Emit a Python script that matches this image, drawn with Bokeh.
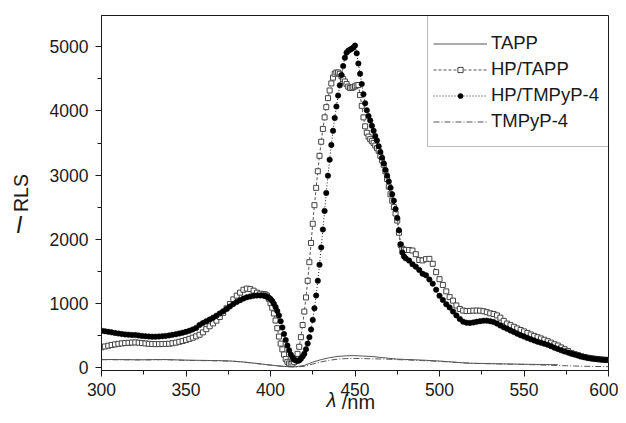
import math
from bokeh.plotting import figure
from bokeh.models import (Range1d, FixedTicker, Legend, LegendItem,
                          BoxAnnotation, LinearAxis)
from bokeh.embed import file_html
from bokeh.resources import INLINE

# ---------------- data ----------------
wl_a = list(range(300, 396, 2))
wl_b = list(range(396, 481))
wl_c = list(range(482, 601, 2))
wavelength = wl_a + wl_b + wl_c

hp_tmpyp4 = [
    # 300..394 step 2
    572, 562, 553, 545, 535, 528, 520, 513, 508, 505,
    503, 497, 490, 485, 480, 478, 478, 480, 484, 490,
    498, 506, 516, 527, 540, 553, 570, 590, 615, 660,
    690, 718, 745, 775, 806, 840, 875, 910, 950, 988,
    1020, 1048, 1072, 1092, 1106, 1116, 1120, 1122,
    # 396..480 step 1
    1118, 1112, 1100, 1085, 1066, 1035, 990, 940, 880, 810,
    720, 620, 520, 425, 340, 265, 200, 155, 122, 105,
    100, 108, 135, 170, 210, 280, 370, 470, 590, 740,
    920, 1120, 1350, 1600, 1870, 2150, 2440, 2720, 2990, 3240,
    3470, 3690, 3890, 4070, 4240, 4400, 4560, 4700, 4830, 4910,
    4940, 4955, 4970, 4990, 5020, 4900, 4740, 4580, 4420, 4260,
    4120, 4010, 3920, 3850, 3770, 3690, 3610, 3540, 3450, 3360,
    3270, 3180, 3080, 2990, 2900, 2800, 2700, 2600, 2470, 2330,
    2140, 1920, 1790, 1730, 1700,
    # 482..600 step 2
    1665, 1610, 1570, 1520, 1460, 1435, 1370, 1305, 1210, 1115,
    1050, 985, 935, 870, 810, 755, 712, 696, 692, 700,
    710, 720, 728, 728, 720, 705, 682, 652, 625, 600,
    575, 550, 525, 500, 480, 458, 438, 418, 400, 385,
    368, 350, 330, 305, 285, 265, 248, 230, 213, 198,
    183, 168, 155, 145, 137, 130, 124, 119, 115, 112,
]

hp_tapp = [
    # 300..394 step 2
    312, 325, 337, 347, 357, 366, 373, 378, 382, 386,
    388, 384, 378, 372, 366, 363, 362, 362, 363, 365,
    368, 375, 385, 398, 410, 425, 444, 462, 483, 508,
    545, 595, 640, 685, 728, 785, 850, 920, 988, 1060,
    1118, 1165, 1210, 1228, 1220, 1196, 1165, 1148,
    # 396..480 step 1
    1142, 1135, 1118, 1070, 1000, 930, 840, 730, 610, 480,
    370, 280, 200, 130, 85, 60, 50, 55, 80, 130,
    210, 320, 470, 660, 870, 1090, 1350, 1640, 1940, 2240,
    2530, 2800, 3060, 3300, 3520, 3720, 3900, 4060, 4200, 4320,
    4430, 4520, 4580, 4600, 4600, 4580, 4540, 4500, 4460, 4420,
    4380, 4360, 4360, 4370, 4385, 4400, 4405, 4250, 4080, 3900,
    3760, 3660, 3600, 3560, 3530, 3500, 3460, 3420, 3380, 3300,
    3230, 3160, 3060, 2940, 2820, 2700, 2600, 2500, 2400, 2290,
    2100, 1910, 1850, 1835, 1830,
    # 482..600 step 2
    1830, 1822, 1765, 1675, 1668, 1688, 1692, 1615, 1485, 1375,
    1285, 1185, 1095, 1040, 965, 910, 885, 878, 880, 884,
    885, 884, 875, 860, 842, 832, 810, 775, 725, 682,
    658, 632, 606, 582, 560, 536, 512, 490, 470, 450,
    430, 407, 385, 360, 340, 310, 282, 255, 225, 205,
    190, 172, 160, 148, 140, 133, 127, 122, 118, 115,
]

wl_thin = list(range(300, 601, 5))
wl_tapp = list(range(300, 571, 5))
tapp = [
    122, 122, 121, 120, 118, 118, 120, 122, 120, 116,
    112, 110, 108, 106, 104, 100, 92, 80, 66, 50,
    35, 20, 10, 8, 30, 80, 120, 150, 170, 180,
    182, 175, 168, 155, 140, 128, 122, 118, 112, 105,
    98, 88, 78, 68, 62, 60, 58, 55, 52, 50,
    48, 46, 44, 42, 40,
]
tmpyp4 = [
    118, 118, 117, 116, 115, 115, 116, 118, 116, 112,
    108, 106, 104, 102, 100, 96, 90, 78, 64, 48,
    34, 20, 10, 5, 15, 50, 85, 110, 128, 136,
    138, 136, 132, 130, 126, 120, 115, 110, 104, 98,
    92, 85, 76, 68, 62, 58, 55, 52, 50, 47,
    44, 40, 36, 32, 28, 24, 20, 17, 14, 12,
    10,
]

x_major = [300, 350, 400, 450, 500, 550, 600]
x_minor = [325, 375, 425, 475, 525, 575]
y_major = [0, 1000, 2000, 3000, 4000, 5000]
y_minor = [500, 1500, 2500, 3500, 4500]

# axis-title pieces, each placed at one tick of a bare axis
y_symbol_at = 2213     # italic "I"
x_symbol_at = 436      # italic "λ"
x_unit_at = 452        # "/nm"

assert len(wavelength) == len(hp_tmpyp4) == len(hp_tapp)
assert len(wl_tapp) == len(tapp)
assert len(wl_thin) == len(tmpyp4)

FONT = "Liberation Sans"
INK = "#1a1a1a"
GRAY = "#555555"

p = figure(width=618, height=415, output_backend="svg", toolbar_location=None,
           title=None, x_range=Range1d(300, 600), y_range=Range1d(-50, 5490),
           min_border_left=101, min_border_right=10, min_border_top=15,
           min_border_bottom=45)
p.grid.visible = False
p.outline_line_color = INK
p.outline_line_width = 1
p.background_fill_color = "white"
p.border_fill_color = "white"

for ax in (p.xaxis[0], p.yaxis[0]):
    ax.axis_line_color = INK
    ax.major_tick_line_color = INK
    ax.minor_tick_line_color = INK
    ax.major_tick_in = 0
    ax.major_tick_out = 6
    ax.minor_tick_in = 0
    ax.minor_tick_out = 4
    ax.major_label_text_font = FONT
    ax.major_label_text_font_size = "17.5px"
    ax.major_label_text_color = INK
    ax.axis_label_text_font = FONT
    ax.axis_label_text_font_size = "19.5px"
    ax.axis_label_text_font_style = "normal"
    ax.axis_label_text_color = INK
p.xaxis.ticker = FixedTicker(ticks=x_major, minor_ticks=x_minor)
p.yaxis.ticker = FixedTicker(ticks=y_major, minor_ticks=y_minor)
p.xaxis.major_label_standoff = 6
p.yaxis.major_label_standoff = 7
p.yaxis.axis_label = "RLS"
p.yaxis.axis_label_standoff = 15


def symbol_axis(tick, text, standoff, size, style, font=FONT):
    return LinearAxis(ticker=FixedTicker(ticks=[tick], minor_ticks=[]),
                      major_label_overrides={tick: text},
                      major_label_orientation="horizontal",
                      axis_line_color=None, major_tick_line_color=None,
                      minor_tick_line_color=None, major_tick_out=0,
                      major_tick_in=0, minor_tick_out=0, minor_tick_in=0,
                      major_label_standoff=standoff,
                      major_label_text_font=font,
                      major_label_text_font_style=style,
                      major_label_text_font_size=size,
                      major_label_text_color=INK)


p.add_layout(symbol_axis(y_symbol_at, "I", -16, "23px", "italic"), "left")
p.add_layout(symbol_axis(x_symbol_at, "λ", -10, "20px", "italic"), "below")
p.add_layout(symbol_axis(x_unit_at, "/nm", -23, "20px", "normal"), "below")

r_tapp = p.line(wl_tapp, tapp, line_color=GRAY, line_width=1)
r_tmp = p.line(wl_thin, tmpyp4, line_color=GRAY, line_width=1, line_dash="6 2 1 2")
r_sq_l = p.line(wavelength, hp_tapp, line_color=GRAY, line_width=1, line_dash="3 2")
r_sq = p.scatter(wavelength, hp_tapp, marker="square", size=5, line_color="#444444",
                 fill_color="white", line_width=1)
r_ci_l = p.line(wavelength, hp_tmpyp4, line_color=INK, line_width=1, line_dash="1 2")
r_ci = p.scatter(wavelength, hp_tmpyp4, marker="circle", size=5.5, line_color="black",
                 fill_color="black", line_width=0.5)

legend = Legend(items=[
    LegendItem(label="TAPP", renderers=[r_tapp]),
    LegendItem(label="HP/TAPP", renderers=[r_sq_l, r_sq]),
    LegendItem(label="HP/TMPyP-4", renderers=[r_ci_l, r_ci]),
    LegendItem(label="TMPyP-4", renderers=[r_tmp]),
], location=(327, 233), margin=0, padding=5, spacing=4,
    glyph_width=54, glyph_height=13, label_height=13, label_standoff=4,
    label_text_font=FONT, label_text_font_size="18.5px", label_text_color=INK,
    border_line_alpha=0, background_fill_alpha=0)
p.add_layout(legend)

p.add_layout(BoxAnnotation(left=492.9, right=600, top=5490, bottom=3446,
                           fill_alpha=0, line_color=INK, line_width=1))

open("out.html", "w").write(file_html(p, INLINE))
